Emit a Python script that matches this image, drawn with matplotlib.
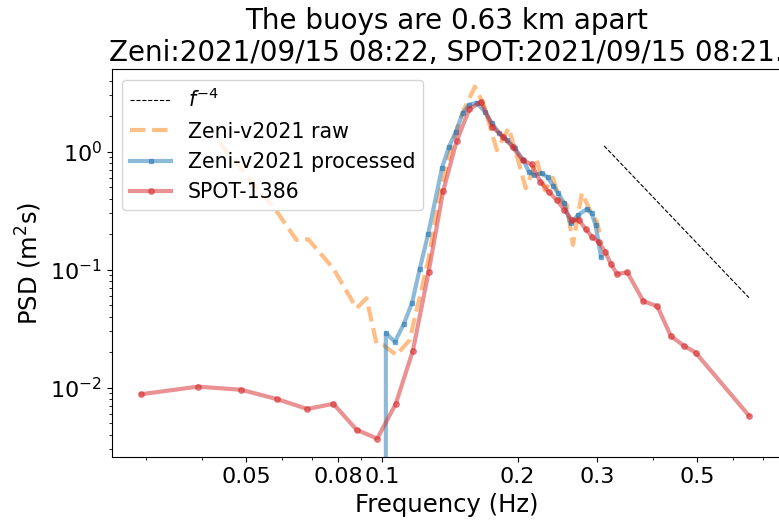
import matplotlib
matplotlib.use("Agg")
import matplotlib.pyplot as plt
from matplotlib.ticker import NullFormatter
import numpy as np

plt.rcParams["font.size"] = 16

# f^-4 reference line
f4_freq = [0.311, 0.651]
f4_psd = [1.12, 0.058]

# Zeni-v2021 raw spectrum
raw_freq = [0.0437, 0.0589, 0.0647, 0.0687, 0.0780, 0.0879, 0.0925, 0.0973,
            0.1007, 0.1078, 0.1153, 0.1194, 0.1265, 0.1344, 0.1429, 0.1512,
            0.1608, 0.1683, 0.1799, 0.1911, 0.2003, 0.2085, 0.2206, 0.2299,
            0.2394, 0.2481, 0.2571, 0.2651, 0.2776, 0.2892, 0.2998, 0.3060]
raw_psd = [1.185, 0.30, 0.1785, 0.181, 0.103, 0.0471, 0.0573, 0.0238,
           0.023, 0.0189, 0.0254, 0.0455, 0.116, 0.43, 1.14, 2.17,
           3.56, 2.49, 1.03, 1.59, 0.85, 0.49, 0.85, 0.47,
           0.60, 0.39, 0.355, 0.162, 0.447, 0.32, 0.254, 0.186]

# Zeni-v2021 processed spectrum (zeros below cut-off)
proc_freq = [0.0879, 0.0928, 0.0977, 0.1021, 0.1069, 0.1119, 0.1167, 0.1214,
             0.1267, 0.1360, 0.1408, 0.1459, 0.1510, 0.1562, 0.1622, 0.1692,
             0.1756, 0.1820, 0.1893, 0.1971, 0.2058, 0.2118, 0.2177, 0.2261,
             0.2330, 0.2398, 0.2460, 0.2537, 0.2621, 0.2724, 0.2843, 0.2917,
             0.2977, 0.3059]
proc_psd = [0.0, 0.0, 0.0, 0.0289, 0.0245, 0.0347, 0.0525, 0.102,
            0.201, 0.732, 1.09, 1.477, 2.11, 2.49, 2.60, 2.18,
            1.74, 1.43, 1.26, 1.07, 0.85, 0.677, 0.635, 0.656,
            0.607, 0.512, 0.444, 0.365, 0.247, 0.291, 0.325, 0.301,
            0.239, 0.129]

# SPOT-1386 spectrum
spot_freq = [0.0293, 0.0391, 0.0488, 0.0586, 0.0684, 0.0781, 0.0879, 0.0977,
             0.1074, 0.1172, 0.1270, 0.1367, 0.1465, 0.1563, 0.1660, 0.1758,
             0.1855, 0.1953, 0.2051, 0.2148, 0.2246, 0.2344, 0.2441, 0.2539,
             0.2637, 0.2734, 0.2832, 0.2930, 0.3027, 0.3125, 0.3223, 0.3320,
             0.3500, 0.3800, 0.4080, 0.4370, 0.4670, 0.4960, 0.6510]
spot_psd = [0.0088, 0.0102, 0.0096, 0.0080, 0.0066, 0.0073, 0.0044, 0.0037,
            0.0073, 0.0206, 0.096, 0.46, 1.23, 2.29, 2.65, 1.63,
            1.34, 1.09, 0.85, 0.78, 0.557, 0.458, 0.39, 0.321,
            0.264, 0.264, 0.22, 0.188, 0.171, 0.142, 0.111, 0.092,
            0.095, 0.054, 0.049, 0.0274, 0.0227, 0.0198, 0.0058]

xticks = [0.05, 0.08, 0.1, 0.2, 0.3, 0.5]
xticklabels = ["0.05", "0.08", "0.1", "0.2", "0.3", "0.5"]

fig = plt.figure(figsize=(7.79, 5.2), dpi=100)
# right spine sits just past the image edge, like the reference
ax = fig.add_axes([0.1434, 0.1206, 0.8592, 0.7461])

ax.loglog(f4_freq, f4_psd, "k--", lw=0.8, label="$f^{-4}$")
ax.loglog(raw_freq, raw_psd, "--", color="C1", lw=3, alpha=0.5,
          label="Zeni-v2021 raw")
ax.loglog(proc_freq, proc_psd, "-s", color="C0", lw=3, ms=3, alpha=0.5,
          label="Zeni-v2021 processed")
ax.loglog(spot_freq, spot_psd, "-o", color="C3", lw=3, ms=4, alpha=0.5,
          label="SPOT-1386")

ax.set_xlim(0.0252, 0.767)
ax.set_ylim(0.00257, 4.99)
ax.set_xticks(xticks, labels=xticklabels)
ax.xaxis.set_minor_formatter(NullFormatter())

ax.set_xlabel("Frequency (Hz)", fontsize=17.5)
ax.set_ylabel("PSD (m$^2$s)", fontsize=17.5)
ax.set_title("The buoys are 0.63 km apart\n"
             "Zeni:2021/09/15 08:22, SPOT:2021/09/15 08:21.",
             fontsize=20)
ax.legend(loc="upper left", fontsize=14.8)

fig.savefig("out.png", dpi=100)
